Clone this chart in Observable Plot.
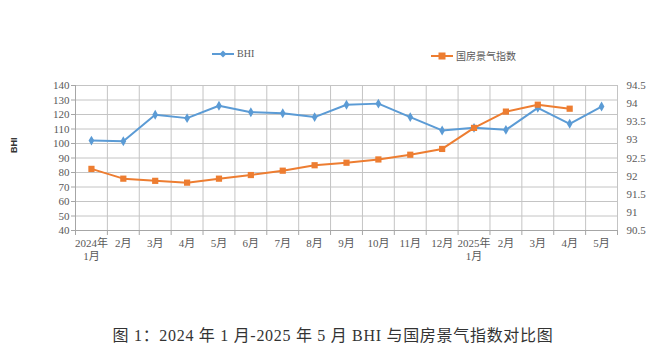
<!DOCTYPE html>
<html><head><meta charset="utf-8">
<script src="https://cdn.jsdelivr.net/npm/d3@7"></script>
<script src="https://cdn.jsdelivr.net/npm/@observablehq/plot@0.6"></script>
<style>
body{margin:0;background:#fff;width:656px;height:357px;overflow:hidden;position:relative;font-family:"Liberation Serif","Noto Sans CJK SC",serif;}
#legend{position:relative;height:70px;}
.lg{position:absolute;top:48px;font-size:10px;color:#595959;display:flex;align-items:center;gap:3px;}
#caption{position:absolute;top:322px;left:0;width:666px;text-align:center;font-size:16px;letter-spacing:0.7px;color:#333;}
</style></head><body>
<div id="legend"></div>
<div id="chart"></div>
<div id="caption"></div>
<script>
const months = ["2024年\n1月","2月","3月","4月","5月","6月","7月","8月","9月","10月","11月","12月","2025年\n1月","2月","3月","4月","5月"];
const bhi = [102,101.6,119.8,117.5,126,121.6,120.9,118.2,126.7,127.5,118.2,109,110.8,109.4,124.6,113.6,125.5];
const guofang = [92.2,91.93,91.87,91.82,91.93,92.03,92.15,92.3,92.37,92.46,92.59,92.75,93.33,93.78,93.97,93.86];
const leftTicks = [40,50,60,70,80,90,100,110,120,130,140];
const rightTicks = [90.5,91,91.5,92,92.5,93,93.5,94,94.5];
const seriesNames = ["BHI","国房景气指数"];
const colors = ["#5B9BD5","#ED7D31"];
const captionText = "图 1：2024 年 1 月-2025 年 5 月 BHI 与国房景气指数对比图";

const toLeft = v => 40 + (v - 90.5) * 25;
const fromLeft = d => String(+(((d - 40) / 25) + 90.5).toFixed(1));

const data = months.map((m, i) => ({pos: i + 0.5, bhi: bhi[i], gf: guofang[i] != null ? toLeft(guofang[i]) : null}));
const gfData = data.filter(d => d.gf != null);
const font = '"Liberation Serif","Noto Sans CJK SC",serif';

const chart = Plot.plot({
  width: 656, height: 210,
  marginTop: 15, marginBottom: 50, marginLeft: 75, marginRight: 39,
  style: {fontFamily: font, fontSize: "11px", color: "#595959", background: "#fff"},
  x: {type: "linear", domain: [0, months.length]},
  y: {domain: [40, 140]},
  marks: [
    Plot.gridX(d3.range(months.length + 1), {stroke: "#c4c4c4", strokeOpacity: 1}),
    Plot.gridY(leftTicks, {stroke: "#c4c4c4", strokeOpacity: 1}),
    Plot.axisY(leftTicks, {tickSize: 4, tickPadding: 2, label: null, stroke: "#a6a6a6"}),
    Plot.axisY(rightTicks.map(toLeft), {anchor: "right", tickSize: 0, tickPadding: 9, label: null, tickFormat: fromLeft}),
    Plot.axisX(d3.range(months.length + 1), {tickSize: 5, tickFormat: () => "", label: null, stroke: "#a6a6a6"}),
    Plot.axisX(d3.range(months.length).map(i => i + 0.5), {tickSize: 0, tickPadding: 8, label: null, lineHeight: 1.15, tickFormat: d => months[Math.floor(d)]}),
    Plot.ruleX([0], {stroke: "#a6a6a6"}),
    Plot.ruleY([40], {stroke: "#a6a6a6"}),
    Plot.text([seriesNames[0]], {frameAnchor: "left", dx: -61, dy: -5, rotate: -90, fontWeight: "bold", fontSize: 9, fill: "#333", fontFamily: "Liberation Sans, Arial, sans-serif"}),
    Plot.line(data, {x: "pos", y: "bhi", stroke: colors[0], strokeWidth: 2}),
    Plot.dot(data, {x: "pos", y: "bhi", symbol: "diamond", fill: colors[0], r: 3}),
    Plot.line(gfData, {x: "pos", y: "gf", stroke: colors[1], strokeWidth: 2}),
    Plot.dot(gfData, {x: "pos", y: "gf", symbol: "square", fill: colors[1], r: 3.5})
  ]
});
document.getElementById("chart").appendChild(chart);

const legend = document.getElementById("legend");
const legendX = [212, 431];
seriesNames.forEach((name, k) => {
  const div = document.createElement("div");
  div.className = "lg";
  div.style.left = legendX[k] + "px";
  const sym = k === 0
    ? `<path d="M11,1.5 L14.5,5 L11,8.5 L7.5,5 Z" fill="${colors[0]}"/>`
    : `<rect x="7.5" y="1.5" width="7" height="7" fill="${colors[1]}"/>`;
  div.innerHTML = `<svg width="22" height="10"><line x1="0" x2="22" y1="5" y2="5" stroke="${colors[k]}" stroke-width="2"/>${sym}</svg><span>${name}</span>`;
  legend.appendChild(div);
});
document.getElementById("caption").textContent = captionText;
</script>
</body></html>
